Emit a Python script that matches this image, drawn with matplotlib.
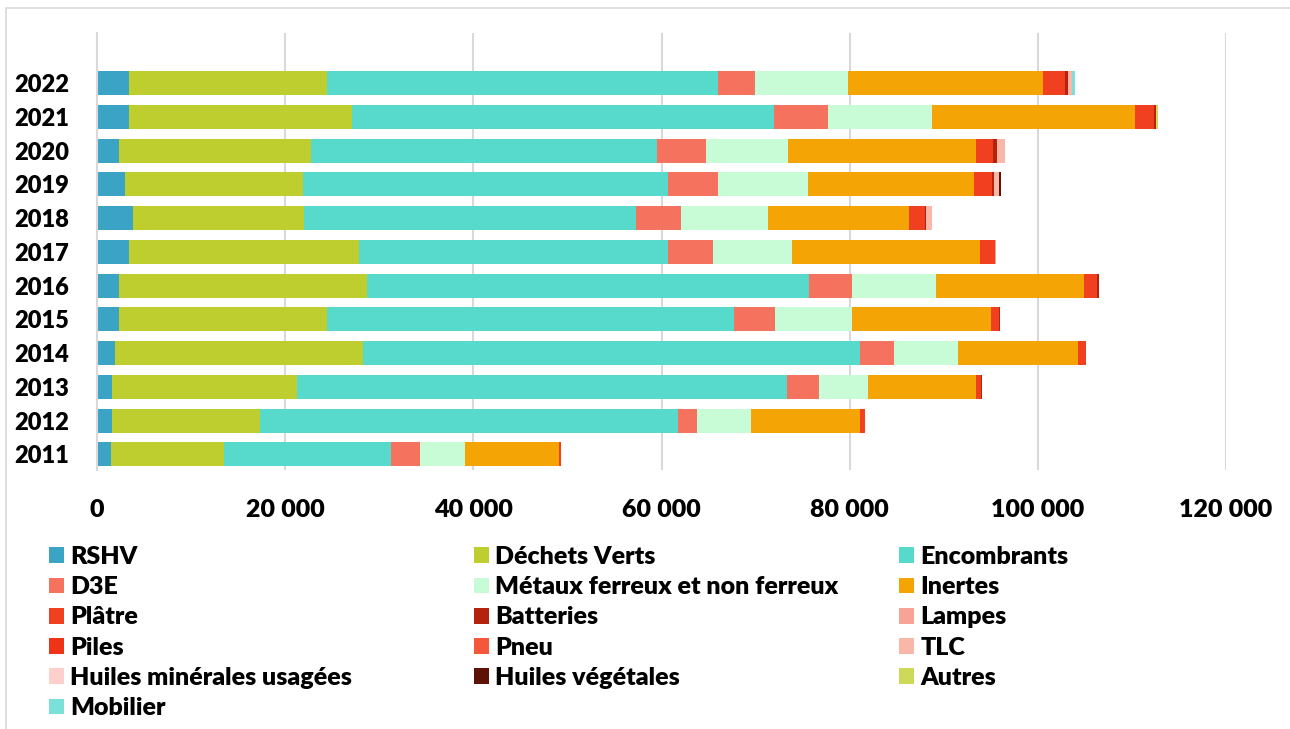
import matplotlib.pyplot as plt
from matplotlib.patches import Rectangle
from matplotlib.ticker import FuncFormatter

plt.rcParams['font.family'] = ['Lato', 'DejaVu Sans']
plt.rcParams['font.weight'] = 'heavy'

annees = ['2011', '2012', '2013', '2014', '2015', '2016',
          '2017', '2018', '2019', '2020', '2021', '2022']

# tonnages par filière, de 2011 à 2022
rshv = [1500, 1600, 1600, 1900, 2300, 2300, 3400, 3800, 3000, 2300, 3400, 3400]
dechets_verts = [12000, 15700, 19700, 26400, 22100, 26400, 24500, 18200, 18900, 20400, 23700, 21000]
encombrants = [17800, 44500, 52000, 52800, 43300, 47000, 32800, 35300, 38800, 36800, 44900, 41600]
d3e = [3000, 2000, 3400, 3600, 4400, 4500, 4800, 4800, 5300, 5200, 5700, 3900]
metaux = [4800, 5700, 5200, 6800, 8100, 9000, 8400, 9200, 9600, 8700, 11100, 9900]
inertes = [10000, 11600, 11500, 12800, 14800, 15700, 19900, 15000, 17600, 20000, 21500, 20800]
platre = [200, 500, 600, 800, 900, 1400, 1600, 1700, 1900, 1800, 2000, 2300]
batteries = [0, 0, 100, 0, 100, 200, 100, 100, 200, 500, 300, 300]
lampes = [0, 0, 0, 50, 0, 0, 50, 0, 0, 0, 0, 50]
piles = [0, 0, 0, 0, 0, 0, 0, 0, 0, 0, 0, 0]
pneu = [0, 0, 0, 0, 0, 0, 0, 0, 0, 0, 0, 0]
tlc = [0, 0, 0, 0, 0, 0, 0, 700, 600, 800, 0, 400]
huiles_min = [0, 0, 0, 0, 0, 0, 0, 0, 0, 0, 0, 0]
huiles_veg = [0, 0, 0, 0, 0, 0, 0, 0, 150, 0, 0, 0]
autres = [0, 0, 0, 0, 0, 0, 0, 0, 0, 0, 200, 0]
mobilier = [0, 0, 0, 0, 0, 0, 0, 0, 0, 0, 0, 250]

series = [
    ('RSHV', rshv, '#3BA3C3'),
    ('Déchets Verts', dechets_verts, '#BFCE2F'),
    ('Encombrants', encombrants, '#57D9CC'),
    ('D3E', d3e, '#F5735E'),
    ('Métaux ferreux et non ferreux', metaux, '#C8FCD6'),
    ('Inertes', inertes, '#F4A404'),
    ('Plâtre', platre, '#F04020'),
    ('Batteries', batteries, '#B5230E'),
    ('Lampes', lampes, '#F7A496'),
    ('Piles', piles, '#EE3317'),
    ('Pneu', pneu, '#F4573A'),
    ('TLC', tlc, '#F9B7AA'),
    ('Huiles minérales usagées', huiles_min, '#FDD0CC'),
    ('Huiles végétales', huiles_veg, '#5C1207'),
    ('Autres', autres, '#CDD958'),
    ('Mobilier', mobilier, '#7BE0D8'),
]

fig = plt.figure(figsize=(12.9, 7.29), dpi=100)
ax = fig.add_axes([97 / 1290, 1 - 470 / 729, (1226 - 97) / 1290, (470 - 33) / 729])

# cadre de la zone graphique
fig.patches.append(Rectangle((6 / 1290, -0.1), 1.2, 1 - 8 / 729 + 0.1,
                             transform=fig.transFigure, fill=False,
                             edgecolor='#D9D9D9', linewidth=1.2))

y = range(len(annees))
gauche = [0] * len(annees)
barres = {}
for nom, valeurs, couleur in series:
    barres[nom] = ax.barh(y, valeurs, left=gauche, height=0.71, color=couleur, label=nom)
    gauche = [g + v for g, v in zip(gauche, valeurs)]

ax.set_xlim(0, 120000)
ax.set_ylim(-0.46, 12.48)
ax.set_xticks(range(0, 120001, 20000))
ax.xaxis.set_major_formatter(FuncFormatter(lambda v, p: f'{int(v):,}'.replace(',', '\u202f')))
ax.set_yticks(list(y))
ax.set_yticklabels(annees)
ax.tick_params(axis='both', length=0, labelsize=18)
ax.tick_params(axis='y', labelsize=17, pad=20)
ax.tick_params(axis='x', pad=21)
ax.grid(axis='x', color='#D9D9D9', linewidth=1.5)
ax.set_axisbelow(True)
for s in ['top', 'right', 'bottom']:
    ax.spines[s].set_visible(False)
ax.spines['left'].set_color('#D9D9D9')
ax.spines['left'].set_linewidth(1.5)

# légende sur trois colonnes, remplie ligne par ligne
noms = [s[0] for s in series]
debuts = [49, 474, 899]
for c in range(3):
    cols = noms[c::3]
    fig.legend([barres[n] for n in cols], cols, loc='upper left',
               bbox_to_anchor=(debuts[c] / 1290, 1 - 546 / 729),
               frameon=False, fontsize=18, borderpad=0, borderaxespad=0,
               handlelength=0.6, handleheight=0.6, handletextpad=0.25,
               labelspacing=0.33)

fig.savefig('out.png', dpi=100)
